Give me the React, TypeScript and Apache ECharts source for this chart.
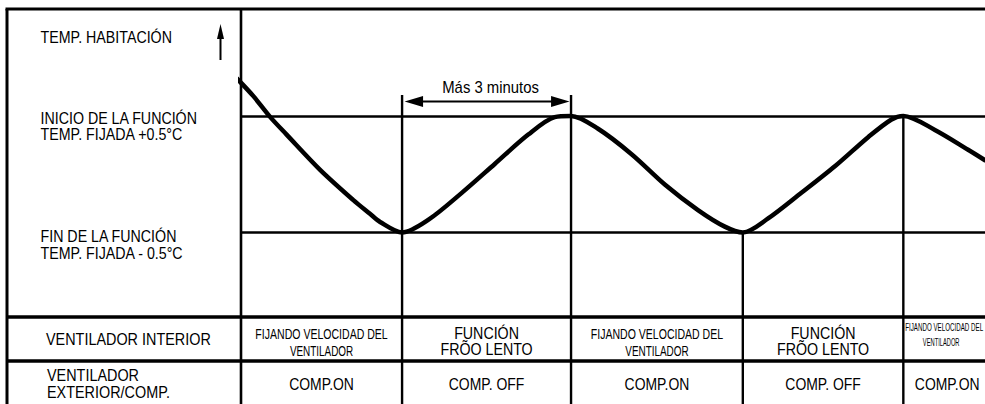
import React, { useEffect, useRef } from "react";
import * as echarts from "echarts";

// Room temperature curve: time in minutes, temperature relative to the set point (°C)
const curveTimes = [-0.07, 0.22, 0.52, 0.81, 1.4, 1.99, 2.29, 2.47, 2.86, 3.33, 3.92, 4.51, 5.1, 5.57, 5.86, 6.34, 6.94, 7.53, 8.12, 8.59, 8.91, 9.36, 9.95, 10.55, 11.14, 11.55, 11.76, 12.32, 12.91, 13.21];
const curveTemps = [0.82, 0.67, 0.49, 0.34, 0.04, -0.22, -0.34, -0.41, -0.5, -0.39, -0.16, 0.09, 0.34, 0.49, 0.5, 0.39, 0.17, -0.09, -0.31, -0.45, -0.5, -0.38, -0.16, 0.07, 0.32, 0.47, 0.5, 0.38, 0.21, 0.12];

// thresholds
const startLevel = 0.5; // INICIO DE LA FUNCIÓN (set +0.5°C)
const endLevel = -0.5; // FIN DE LA FUNCIÓN (set -0.5°C)

// phase changes (minutes) and the temperature at which they happen
const phaseTimes = [2.86, 5.86, 8.91, 11.76];
const phaseLevels = [-0.5, 0.5, -0.5, 0.5];
const timeMin = 0;
const timeMax = 13.21;
const tempMin = -1.217;
const tempMax = 1.418;

const annotation = "Más 3 minutos";
const yTitle = "TEMP. HABITACIÓN";
const startLabel = ["INICIO DE LA FUNCIÓN", "TEMP. FIJADA +0.5°C"];
const endLabel = ["FIN DE LA FUNCIÓN", "TEMP. FIJADA - 0.5°C"];
const row1Title = ["VENTILADOR INTERIOR"];
const row2Title = ["VENTILADOR", "EXTERIOR/COMP."];
const indoorFan = [
  ["FIJANDO VELOCIDAD DEL", "VENTILADOR"],
  ["FUNCIÓN", "FRÕO LENTO"],
  ["FIJANDO VELOCIDAD DEL", "VENTILADOR"],
  ["FUNCIÓN", "FRÕO LENTO"],
  ["FIJANDO VELOCIDAD DEL", "VENTILADOR"],
];
const compressor = ["COMP.ON", "COMP. OFF", "COMP.ON", "COMP. OFF", "COMP.ON"];

const FONT = "Liberation Sans, Arial, Helvetica, sans-serif";

export default function App() {
  const ref = useRef<HTMLDivElement>(null);
  useEffect(() => {
    document.body.style.margin = "0";
    const el = ref.current!;
    const chart = echarts.init(el, null, { renderer: "svg" });
    chart.setOption({
      animation: false,
      backgroundColor: "#fff",
      grid: { left: 241, right: 0, top: 9, height: 307 },
      xAxis: { type: "value", min: timeMin, max: timeMax, show: false },
      yAxis: { type: "value", min: tempMin, max: tempMax, show: false },
      series: [
        {
          type: "line",
          data: curveTimes.map((t, i) => [t, curveTemps[i]]),
          smooth: 0.3,
          showSymbol: false,
          clip: false,
          silent: true,
          z: 5,
          lineStyle: { color: "#000", width: 4.5, cap: "round" },
          markLine: {
            silent: true,
            symbol: ["none", "none"],
            label: { show: false },
            lineStyle: { color: "#000", width: 2.5, type: "solid" },
            data: [{ yAxis: startLevel }, { yAxis: endLevel }],
          },
        },
      ],
    });

    const W = 985;
    const H = 404;
    const px = (t: number) => chart.convertToPixel({ xAxisIndex: 0 }, t) as number;
    const py = (v: number) => chart.convertToPixel({ yAxisIndex: 0 }, v) as number;
    const g: any[] = [];
    const line = (x1: number, y1: number, x2: number, y2: number, w: number) =>
      g.push({ type: "line", silent: true, z: 10, shape: { x1, y1, x2, y2 }, style: { stroke: "#000", lineWidth: w } });
    const text = (x: number, y: number, t: string, size: number, align: string, scaleX = 0.89) =>
      g.push({
        type: "text",
        silent: true,
        z: 10,
        x,
        y,
        scaleX,
        style: { text: t, fill: "#000", font: `${size}px ${FONT}`, align, verticalAlign: "middle" },
      });
    const tri = (pts: number[][]) =>
      g.push({ type: "polygon", silent: true, z: 10, shape: { points: pts }, style: { fill: "#000" } });

    const x0 = px(timeMin);
    const rowTop = 317;
    const rowMid = 361;

    // frame
    line(5.5, 9, W, 9, 3.2);
    line(7, 9, 7, H, 3);
    line(x0, 9, x0, H, 2.6);
    line(7, rowTop, W, rowTop, 3.4);
    line(7, rowMid, W, rowMid, 3.4);

    // y title with up arrow
    text(40.5, 37, yTitle, 16, "left");
    line(220.5, 60, 220.5, 36, 2);
    tri([[220.5, 24], [217, 39], [224, 39]]);

    // threshold labels
    text(40.5, 118.5, startLabel[0], 16, "left");
    text(40.5, 134.5, startLabel[1], 16, "left");
    text(40.5, 236, endLabel[0], 16, "left");
    text(40.5, 253, endLabel[1], 16, "left");

    // arrow annotation
    const arrowY = 101.5;
    const a1 = px(phaseTimes[0]);
    const a2 = px(phaseTimes[1]);

    // phase verticals
    phaseTimes.forEach((t, i) => {
      const x = px(t);
      const top = i < 2 ? arrowY - 6.5 : py(phaseLevels[i]);
      line(x, top, x, H, 2.4);
    });

    line(a1 + 10, arrowY, a2 - 10, arrowY, 2);
    tri([[a1 + 2.5, arrowY], [a1 + 21, arrowY - 5.5], [a1 + 21, arrowY + 5.5]]);
    tri([[a2 - 1.5, arrowY], [a2 - 20, arrowY - 5.5], [a2 - 20, arrowY + 5.5]]);
    text((a1 + a2) / 2 + 4, 87, annotation, 16, "center", 0.93);

    // table titles
    text(46, 339, row1Title[0], 16, "left", 0.9);
    text(47, 375.5, row2Title[0], 16, "left", 0.9);
    text(47, 392.5, row2Title[1], 16, "left", 0.9);

    // table cells
    const edges = [x0, ...phaseTimes.map(px), W];
    indoorFan.forEach((lines, j) => {
      const cx = (edges[j] + edges[j + 1]) / 2;
      const w = edges[j + 1] - edges[j];
      const condensed = lines[0].length > 12;
      if (w < 120) {
        text(cx, 327, lines[0], 11.5, "center", 0.54);
        text(cx - 3, 342.5, lines[1], 11.5, "center", 0.5);
      } else if (condensed) {
        text(cx, 334, lines[0], 15.5, "center", 0.68);
        text(cx, 350.5, lines[1], 15.5, "center", 0.64);
      } else {
        text(cx, 333.5, lines[0], 16, "center");
        text(cx, 349.2, lines[1], 16, "center");
      }
    });
    compressor.forEach((label, j) => {
      const cx = (edges[j] + edges[j + 1]) / 2;
      const w = edges[j + 1] - edges[j];
      text(w < 120 ? cx + 3 : cx, 383.7, label, 16, "center", 0.87);
    });

    chart.setOption({ graphic: g });
    return () => chart.dispose();
  }, []);
  return <div ref={ref} style={{ position: "fixed", left: 0, top: 0, width: 985, height: 404 }} />;
}
